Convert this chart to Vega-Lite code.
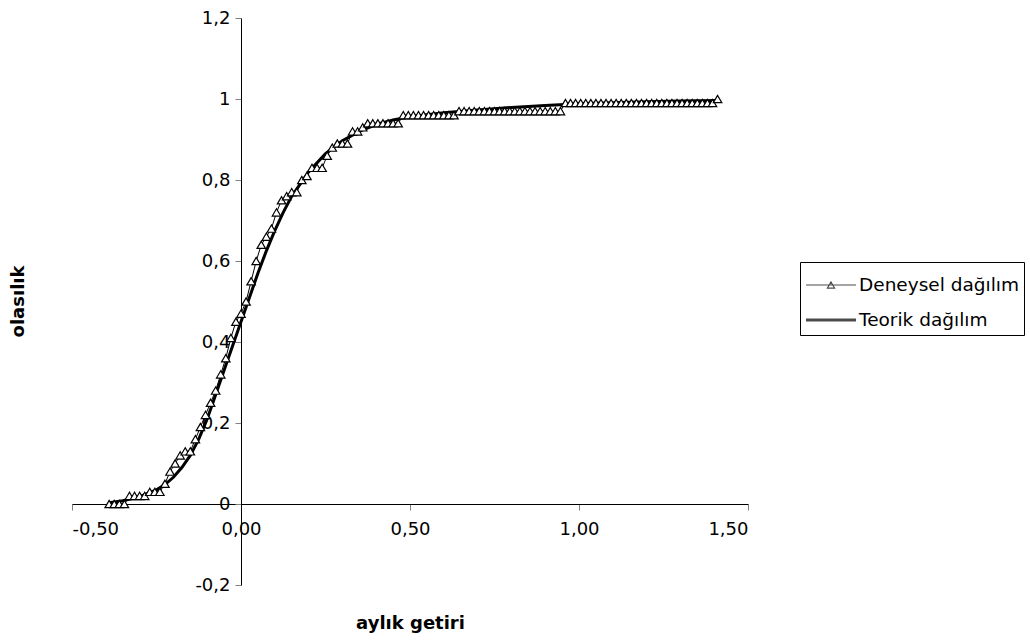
{
  "$schema": "https://vega.github.io/schema/vega-lite/v6.json",
  "width": 676,
  "height": 567,
  "autosize": "none",
  "padding": {"left": 72, "top": 18, "right": 282, "bottom": 56},
  "background": "white",
  "config": {
    "view": {"stroke": null},
    "locale": {"number": {"decimal": ",", "thousands": ".", "grouping": [3], "currency": ["", ""], "minus": "-"}}
  },
  "datasets": {
    "d": [
      {"s": "Deneysel dağılım", "x": -0.39, "y": 0},
      {"s": "Deneysel dağılım", "x": -0.375, "y": 0},
      {"s": "Deneysel dağılım", "x": -0.36, "y": 0},
      {"s": "Deneysel dağılım", "x": -0.345, "y": 0},
      {"s": "Deneysel dağılım", "x": -0.33, "y": 0.02},
      {"s": "Deneysel dağılım", "x": -0.315, "y": 0.02},
      {"s": "Deneysel dağılım", "x": -0.3, "y": 0.02},
      {"s": "Deneysel dağılım", "x": -0.285, "y": 0.02},
      {"s": "Deneysel dağılım", "x": -0.27, "y": 0.03},
      {"s": "Deneysel dağılım", "x": -0.255, "y": 0.03},
      {"s": "Deneysel dağılım", "x": -0.24, "y": 0.03},
      {"s": "Deneysel dağılım", "x": -0.225, "y": 0.05},
      {"s": "Deneysel dağılım", "x": -0.21, "y": 0.08},
      {"s": "Deneysel dağılım", "x": -0.195, "y": 0.10},
      {"s": "Deneysel dağılım", "x": -0.18, "y": 0.12},
      {"s": "Deneysel dağılım", "x": -0.165, "y": 0.13},
      {"s": "Deneysel dağılım", "x": -0.15, "y": 0.13},
      {"s": "Deneysel dağılım", "x": -0.135, "y": 0.16},
      {"s": "Deneysel dağılım", "x": -0.12, "y": 0.19},
      {"s": "Deneysel dağılım", "x": -0.105, "y": 0.22},
      {"s": "Deneysel dağılım", "x": -0.09, "y": 0.25},
      {"s": "Deneysel dağılım", "x": -0.075, "y": 0.28},
      {"s": "Deneysel dağılım", "x": -0.06, "y": 0.32},
      {"s": "Deneysel dağılım", "x": -0.045, "y": 0.36},
      {"s": "Deneysel dağılım", "x": -0.03, "y": 0.41},
      {"s": "Deneysel dağılım", "x": -0.015, "y": 0.45},
      {"s": "Deneysel dağılım", "x": 0, "y": 0.47},
      {"s": "Deneysel dağılım", "x": 0.015, "y": 0.50},
      {"s": "Deneysel dağılım", "x": 0.03, "y": 0.55},
      {"s": "Deneysel dağılım", "x": 0.045, "y": 0.60},
      {"s": "Deneysel dağılım", "x": 0.06, "y": 0.64},
      {"s": "Deneysel dağılım", "x": 0.075, "y": 0.66},
      {"s": "Deneysel dağılım", "x": 0.09, "y": 0.68},
      {"s": "Deneysel dağılım", "x": 0.105, "y": 0.72},
      {"s": "Deneysel dağılım", "x": 0.12, "y": 0.75},
      {"s": "Deneysel dağılım", "x": 0.135, "y": 0.76},
      {"s": "Deneysel dağılım", "x": 0.15, "y": 0.77},
      {"s": "Deneysel dağılım", "x": 0.165, "y": 0.77},
      {"s": "Deneysel dağılım", "x": 0.18, "y": 0.80},
      {"s": "Deneysel dağılım", "x": 0.195, "y": 0.81},
      {"s": "Deneysel dağılım", "x": 0.21, "y": 0.83},
      {"s": "Deneysel dağılım", "x": 0.225, "y": 0.83},
      {"s": "Deneysel dağılım", "x": 0.24, "y": 0.83},
      {"s": "Deneysel dağılım", "x": 0.255, "y": 0.86},
      {"s": "Deneysel dağılım", "x": 0.27, "y": 0.88},
      {"s": "Deneysel dağılım", "x": 0.285, "y": 0.89},
      {"s": "Deneysel dağılım", "x": 0.3, "y": 0.89},
      {"s": "Deneysel dağılım", "x": 0.315, "y": 0.89},
      {"s": "Deneysel dağılım", "x": 0.33, "y": 0.92},
      {"s": "Deneysel dağılım", "x": 0.345, "y": 0.92},
      {"s": "Deneysel dağılım", "x": 0.36, "y": 0.93},
      {"s": "Deneysel dağılım", "x": 0.375, "y": 0.94},
      {"s": "Deneysel dağılım", "x": 0.39, "y": 0.94},
      {"s": "Deneysel dağılım", "x": 0.405, "y": 0.94},
      {"s": "Deneysel dağılım", "x": 0.42, "y": 0.94},
      {"s": "Deneysel dağılım", "x": 0.435, "y": 0.94},
      {"s": "Deneysel dağılım", "x": 0.45, "y": 0.94},
      {"s": "Deneysel dağılım", "x": 0.465, "y": 0.94},
      {"s": "Deneysel dağılım", "x": 0.48, "y": 0.96},
      {"s": "Deneysel dağılım", "x": 0.495, "y": 0.96},
      {"s": "Deneysel dağılım", "x": 0.51, "y": 0.96},
      {"s": "Deneysel dağılım", "x": 0.525, "y": 0.96},
      {"s": "Deneysel dağılım", "x": 0.54, "y": 0.96},
      {"s": "Deneysel dağılım", "x": 0.555, "y": 0.96},
      {"s": "Deneysel dağılım", "x": 0.57, "y": 0.96},
      {"s": "Deneysel dağılım", "x": 0.585, "y": 0.96},
      {"s": "Deneysel dağılım", "x": 0.6, "y": 0.96},
      {"s": "Deneysel dağılım", "x": 0.615, "y": 0.96},
      {"s": "Deneysel dağılım", "x": 0.63, "y": 0.96},
      {"s": "Deneysel dağılım", "x": 0.645, "y": 0.97},
      {"s": "Deneysel dağılım", "x": 0.66, "y": 0.97},
      {"s": "Deneysel dağılım", "x": 0.675, "y": 0.97},
      {"s": "Deneysel dağılım", "x": 0.69, "y": 0.97},
      {"s": "Deneysel dağılım", "x": 0.705, "y": 0.97},
      {"s": "Deneysel dağılım", "x": 0.72, "y": 0.97},
      {"s": "Deneysel dağılım", "x": 0.735, "y": 0.97},
      {"s": "Deneysel dağılım", "x": 0.75, "y": 0.97},
      {"s": "Deneysel dağılım", "x": 0.765, "y": 0.97},
      {"s": "Deneysel dağılım", "x": 0.78, "y": 0.97},
      {"s": "Deneysel dağılım", "x": 0.795, "y": 0.97},
      {"s": "Deneysel dağılım", "x": 0.81, "y": 0.97},
      {"s": "Deneysel dağılım", "x": 0.825, "y": 0.97},
      {"s": "Deneysel dağılım", "x": 0.84, "y": 0.97},
      {"s": "Deneysel dağılım", "x": 0.855, "y": 0.97},
      {"s": "Deneysel dağılım", "x": 0.87, "y": 0.97},
      {"s": "Deneysel dağılım", "x": 0.885, "y": 0.97},
      {"s": "Deneysel dağılım", "x": 0.9, "y": 0.97},
      {"s": "Deneysel dağılım", "x": 0.915, "y": 0.97},
      {"s": "Deneysel dağılım", "x": 0.93, "y": 0.97},
      {"s": "Deneysel dağılım", "x": 0.945, "y": 0.97},
      {"s": "Deneysel dağılım", "x": 0.96, "y": 0.99},
      {"s": "Deneysel dağılım", "x": 0.975, "y": 0.99},
      {"s": "Deneysel dağılım", "x": 0.99, "y": 0.99},
      {"s": "Deneysel dağılım", "x": 1.005, "y": 0.99},
      {"s": "Deneysel dağılım", "x": 1.02, "y": 0.99},
      {"s": "Deneysel dağılım", "x": 1.035, "y": 0.99},
      {"s": "Deneysel dağılım", "x": 1.05, "y": 0.99},
      {"s": "Deneysel dağılım", "x": 1.065, "y": 0.99},
      {"s": "Deneysel dağılım", "x": 1.08, "y": 0.99},
      {"s": "Deneysel dağılım", "x": 1.095, "y": 0.99},
      {"s": "Deneysel dağılım", "x": 1.11, "y": 0.99},
      {"s": "Deneysel dağılım", "x": 1.125, "y": 0.99},
      {"s": "Deneysel dağılım", "x": 1.14, "y": 0.99},
      {"s": "Deneysel dağılım", "x": 1.155, "y": 0.99},
      {"s": "Deneysel dağılım", "x": 1.17, "y": 0.99},
      {"s": "Deneysel dağılım", "x": 1.185, "y": 0.99},
      {"s": "Deneysel dağılım", "x": 1.2, "y": 0.99},
      {"s": "Deneysel dağılım", "x": 1.215, "y": 0.99},
      {"s": "Deneysel dağılım", "x": 1.23, "y": 0.99},
      {"s": "Deneysel dağılım", "x": 1.245, "y": 0.99},
      {"s": "Deneysel dağılım", "x": 1.26, "y": 0.99},
      {"s": "Deneysel dağılım", "x": 1.275, "y": 0.99},
      {"s": "Deneysel dağılım", "x": 1.29, "y": 0.99},
      {"s": "Deneysel dağılım", "x": 1.305, "y": 0.99},
      {"s": "Deneysel dağılım", "x": 1.32, "y": 0.99},
      {"s": "Deneysel dağılım", "x": 1.335, "y": 0.99},
      {"s": "Deneysel dağılım", "x": 1.35, "y": 0.99},
      {"s": "Deneysel dağılım", "x": 1.365, "y": 0.99},
      {"s": "Deneysel dağılım", "x": 1.38, "y": 0.99},
      {"s": "Deneysel dağılım", "x": 1.395, "y": 0.99},
      {"s": "Deneysel dağılım", "x": 1.41, "y": 1.0},
      {"s": "Teorik dağılım", "x": -0.39, "y": 0.003},
      {"s": "Teorik dağılım", "x": -0.35, "y": 0.008},
      {"s": "Teorik dağılım", "x": -0.3, "y": 0.018},
      {"s": "Teorik dağılım", "x": -0.25, "y": 0.035},
      {"s": "Teorik dağılım", "x": -0.225, "y": 0.048},
      {"s": "Teorik dağılım", "x": -0.2, "y": 0.066},
      {"s": "Teorik dağılım", "x": -0.175, "y": 0.09},
      {"s": "Teorik dağılım", "x": -0.15, "y": 0.12},
      {"s": "Teorik dağılım", "x": -0.125, "y": 0.16},
      {"s": "Teorik dağılım", "x": -0.1, "y": 0.21},
      {"s": "Teorik dağılım", "x": -0.075, "y": 0.27},
      {"s": "Teorik dağılım", "x": -0.05, "y": 0.33},
      {"s": "Teorik dağılım", "x": -0.025, "y": 0.39},
      {"s": "Teorik dağılım", "x": 0, "y": 0.45},
      {"s": "Teorik dağılım", "x": 0.025, "y": 0.51},
      {"s": "Teorik dağılım", "x": 0.05, "y": 0.57},
      {"s": "Teorik dağılım", "x": 0.075, "y": 0.625},
      {"s": "Teorik dağılım", "x": 0.1, "y": 0.675},
      {"s": "Teorik dağılım", "x": 0.125, "y": 0.72},
      {"s": "Teorik dağılım", "x": 0.15, "y": 0.76},
      {"s": "Teorik dağılım", "x": 0.175, "y": 0.79},
      {"s": "Teorik dağılım", "x": 0.2, "y": 0.82},
      {"s": "Teorik dağılım", "x": 0.25, "y": 0.865},
      {"s": "Teorik dağılım", "x": 0.3, "y": 0.897},
      {"s": "Teorik dağılım", "x": 0.35, "y": 0.92},
      {"s": "Teorik dağılım", "x": 0.4, "y": 0.937},
      {"s": "Teorik dağılım", "x": 0.45, "y": 0.948},
      {"s": "Teorik dağılım", "x": 0.5, "y": 0.956},
      {"s": "Teorik dağılım", "x": 0.6, "y": 0.966},
      {"s": "Teorik dağılım", "x": 0.7, "y": 0.973},
      {"s": "Teorik dağılım", "x": 0.8, "y": 0.979},
      {"s": "Teorik dağılım", "x": 0.9, "y": 0.984},
      {"s": "Teorik dağılım", "x": 1.0, "y": 0.988},
      {"s": "Teorik dağılım", "x": 1.1, "y": 0.991},
      {"s": "Teorik dağılım", "x": 1.2, "y": 0.993},
      {"s": "Teorik dağılım", "x": 1.3, "y": 0.995},
      {"s": "Teorik dağılım", "x": 1.41, "y": 0.996}
    ]
  },
  "data": {"name": "d"},
  "encoding": {
    "x": {
      "field": "x", "type": "quantitative",
      "scale": {"domain": [-0.5, 1.5], "nice": false, "zero": false},
      "axis": {
        "orient": "bottom", "offset": -81,
        "values": [-0.5, 0, 0.5, 1, 1.5], "format": ".2f",
        "grid": false, "domainColor": "black", "domainWidth": 1,
        "tickColor": "#808080", "tickSize": 6, "tickWidth": 1,
        "labelFont": "DejaVu Sans", "labelFontSize": 18, "labelColor": "black", "labelPadding": 10,
        "title": "aylık getiri", "titleFont": "DejaVu Sans", "titleFontSize": 18, "titleFontWeight": "bold",
        "titleColor": "black", "titleX": 338, "titleY": 119, "titleBaseline": "middle", "titleAlign": "center"
      }
    },
    "y": {
      "field": "y", "type": "quantitative",
      "scale": {"domain": [-0.2, 1.2], "nice": false, "zero": false},
      "axis": {
        "orient": "left", "offset": -169,
        "values": [-0.2, 0, 0.2, 0.4, 0.6, 0.8, 1, 1.2], "format": "~g",
        "grid": false, "domainColor": "black", "domainWidth": 1,
        "tickColor": "#808080", "tickSize": 6, "tickWidth": 1,
        "labelFont": "DejaVu Sans", "labelFontSize": 18, "labelColor": "black", "labelPadding": 5,
        "title": "olasılık", "titleFont": "DejaVu Sans", "titleFontSize": 18, "titleFontWeight": "bold",
        "titleColor": "black", "titleX": -223, "titleY": 283, "titleBaseline": "middle", "titleAlign": "center", "titleAngle": -90
      }
    }
  },
  "layer": [
    {
      "transform": [{"filter": "datum.s === 'Teorik dağılım'"}],
      "mark": {"type": "line", "color": "black", "strokeWidth": 3}
    },
    {
      "transform": [{"filter": "datum.s === 'Deneysel dağılım'"}],
      "mark": {"type": "line", "color": "black", "strokeWidth": 1}
    },
    {
      "transform": [{"filter": "datum.s === 'Deneysel dağılım'"}],
      "mark": {"type": "point", "shape": "triangle-up", "filled": true, "fill": "white", "stroke": "black", "strokeWidth": 1.2, "size": 72, "opacity": 1}
    },
    {
      "transform": [{"filter": "datum.y > 5"}],
      "mark": {"type": "point", "color": "black", "filled": false},
      "encoding": {
        "shape": {
          "field": "s", "type": "nominal",
          "scale": {
            "domain": ["Deneysel dağılım", "Teorik dağılım"],
            "range": ["M-1,0L1.94,0M0.26,0.18L0.47,-0.18L0.68,0.18Z", "M-1,-0.06L1.94,-0.06M-1,0L1.94,0M-1,0.06L1.94,0.06"]
          },
          "legend": {
            "title": null, "orient": "none", "legendX": 728, "legendY": 244,
            "padding": 5, "strokeColor": "black", "fillColor": "white",
            "symbolSize": 1156, "symbolStrokeWidth": 1.2, "symbolStrokeColor": "black", "symbolFillColor": "white",
            "labelFont": "DejaVu Sans", "labelFontSize": 18.5, "labelColor": "black", "labelOffset": 18, "labelLimit": 400, "rowPadding": 7
          }
        }
      }
    }
  ]
}
